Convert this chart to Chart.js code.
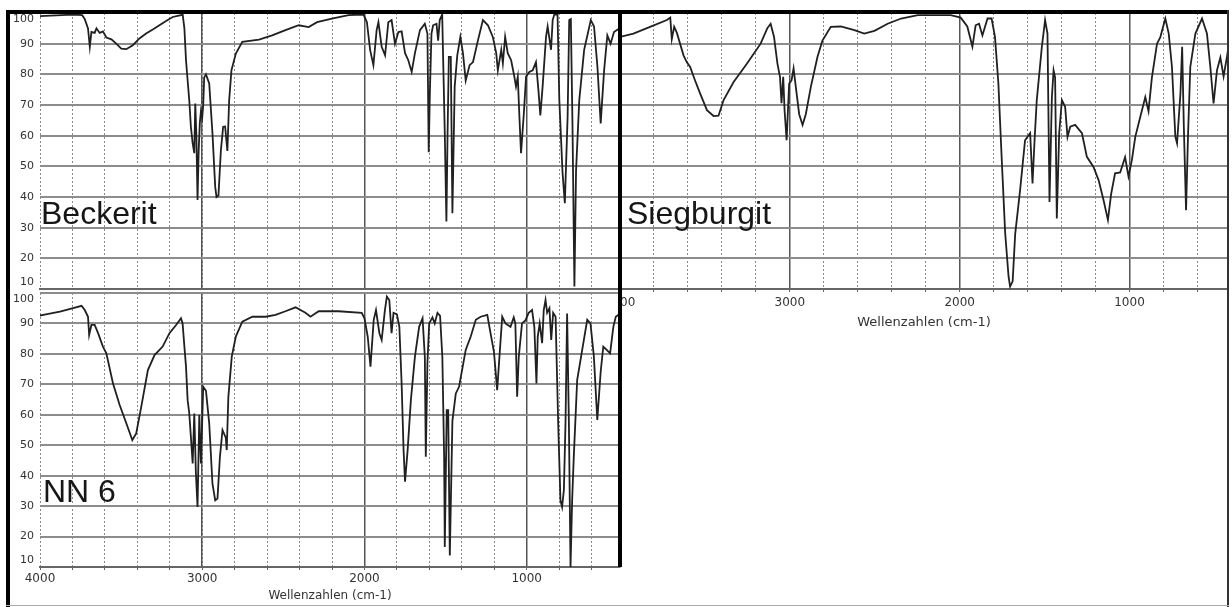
<!DOCTYPE html>
<html lang="de">
<head>
  <meta charset="UTF-8" />
  <title>IR-Spektren: Beckerit, Siegburgit, NN 6</title>
  <script src="https://cdn.jsdelivr.net/npm/chart.js"></script>
  <style>
    html, body {
      margin: 0;
      padding: 0;
      background: #fff;
    }
    body {
      position: relative;
      width: 1232px;
      height: 607px;
      overflow: hidden;
    }
    canvas {
      position: absolute;
    }
    .rule {
      position: absolute;
      background: #000;
      z-index: 5;
    }
  </style>
</head>
<body>
  <canvas id="beckerit" width="621" height="292" style="left:0;top:0"></canvas>
  <canvas id="siegburgit" width="612" height="336" style="left:620px;top:0"></canvas>
  <canvas id="nn6" width="621" height="317" style="left:0;top:290px"></canvas>

  <div class="rule" style="left:6px;top:10px;width:1223px;height:4px"></div>
  <div class="rule" style="left:6px;top:10px;width:4px;height:597px"></div>
  <div class="rule" style="left:618px;top:10px;width:4px;height:557px"></div>
  <div class="rule" style="left:1227px;top:10px;width:2px;height:597px;background:#333"></div>
  <div class="rule" style="left:6px;top:605px;width:1223px;height:1px;background:#aaa"></div>

  <script>
    // wavenumbers (cm-1) and transmission (%)
    const beckeritWn = [4000, 3900, 3800, 3740, 3724, 3704, 3693, 3683, 3663, 3652, 3632, 3612, 3591, 3560, 3530, 3499, 3468, 3428, 3387, 3346, 3305, 3264, 3223, 3182, 3131, 3121, 3110, 3100, 3090, 3080, 3070, 3059, 3049, 3043, 3036, 3029, 3022, 3015, 3008, 3000, 2994, 2988, 2977, 2957, 2937, 2920, 2912, 2900, 2885, 2871, 2859, 2845, 2834, 2820, 2793, 2753, 2650, 2569, 2487, 2405, 2344, 2292, 2201, 2098, 2006, 1985, 1965, 1945, 1925, 1914, 1894, 1873, 1853, 1833, 1812, 1791, 1771, 1750, 1730, 1709, 1689, 1658, 1628, 1612, 1604, 1597, 1587, 1577, 1556, 1546, 1536, 1521, 1505, 1495, 1488, 1480, 1468, 1458, 1444, 1428, 1409, 1393, 1376, 1352, 1331, 1301, 1270, 1239, 1209, 1188, 1178, 1157, 1147, 1133, 1117, 1096, 1076, 1066, 1055, 1045, 1035, 1018, 1004, 984, 963, 943, 928, 916, 902, 881, 871, 850, 840, 830, 810, 799, 779, 765, 748, 738, 728, 718, 706, 696, 676, 646, 605, 585, 564, 544, 523, 503, 483, 462, 442, 425];
    const beckeritT = [99, 99.2, 99.5, 99.3, 98, 95, 89, 93.8, 93.5, 95, 93.5, 94, 92, 91.4, 90, 88.4, 88.2, 89.5, 91.7, 93.3, 94.6, 96, 97.4, 98.7, 99.3, 99.7, 95, 84.6, 78, 71.6, 62.9, 57.5, 54.3, 70.5, 60, 39, 55, 64, 68, 66, 70, 79, 80, 77, 60.8, 43.3, 40, 40.5, 55.3, 62.9, 63, 55, 71.6, 81.3, 86.8, 90.6, 91.3, 92.7, 94.4, 96, 95.4, 97, 98.2, 99.3, 99.5, 97, 87.9, 83, 94.4, 97, 89, 86.2, 97, 97.7, 90, 93.8, 94, 86.9, 84.6, 80.8, 86.9, 94.4, 96.5, 93.3, 54.6, 73.8, 93.3, 96, 96.5, 91, 97.7, 99.5, 60.8, 32, 60, 85.7, 85.7, 34.7, 76, 86.2, 92.2, 86.9, 78, 83, 84, 91, 97.7, 96, 92.2, 86.9, 81.3, 88, 83.6, 92.2, 86.9, 84.6, 79.2, 76, 79.2, 66.1, 54.3, 67, 79.3, 80.8, 81.3, 84, 75, 66.6, 76, 92.2, 95.6, 88, 97.7, 99.5, 99.5, 71.6, 47.8, 38, 66, 97.7, 98, 64, 10.8, 48.5, 71.6, 88, 97.7, 95.6, 82.4, 64, 81.3, 92.7, 90, 93.8, 94.5, 95];

    const siegburgitWn = [4000, 3921, 3823, 3724, 3704, 3695, 3681, 3665, 3626, 3607, 3587, 3558, 3528, 3488, 3449, 3420, 3390, 3331, 3252, 3172, 3133, 3113, 3093, 3073, 3058, 3049, 3039, 3031, 3019, 3004, 2990, 2978, 2965, 2945, 2925, 2906, 2876, 2837, 2808, 2759, 2700, 2620, 2562, 2502, 2424, 2345, 2246, 2053, 1994, 1955, 1925, 1906, 1886, 1866, 1836, 1812, 1792, 1772, 1752, 1732, 1712, 1703, 1688, 1673, 1644, 1615, 1585, 1571, 1559, 1546, 1516, 1497, 1483, 1471, 1457, 1447, 1438, 1428, 1414, 1398, 1379, 1365, 1349, 1320, 1280, 1251, 1212, 1182, 1153, 1127, 1108, 1085, 1055, 1026, 1006, 986, 966, 937, 907, 888, 868, 838, 819, 789, 769, 750, 730, 720, 700, 690, 680, 667, 655, 642, 612, 573, 544, 524, 505, 485, 465, 446, 426, 420];
    const siegburgitT = [92.2, 93.3, 95.5, 97.7, 98.5, 91.5, 95.5, 93.5, 86.2, 84, 82.4, 78, 73.7, 68.3, 66.4, 66.5, 71.6, 77.5, 83.5, 90, 95, 96.5, 92.2, 83.5, 79.2, 70.6, 79.2, 68.3, 58.5, 77, 78, 81.9, 76, 67, 63.5, 67, 76, 85.7, 91, 95.5, 95.6, 94.4, 93.3, 94.2, 96.5, 98.2, 99.3, 99.3, 98.5, 95.6, 89, 96, 96.5, 92.7, 98.2, 98.2, 92.2, 77, 52, 28.2, 14, 10.8, 12.5, 28, 42.3, 58.5, 60.8, 44.4, 58.5, 71.6, 89, 97.7, 93.3, 38.4, 72.6, 81.3, 79, 33, 60.8, 71.6, 69.4, 59.6, 62.9, 63.5, 60.8, 53.1, 49.8, 45.5, 39, 32.5, 41, 47.7, 48, 53, 46.7, 52, 59.6, 66, 72.6, 68, 79, 90, 92, 98.2, 93.3, 82.4, 59.6, 57.5, 73.8, 89, 62.9, 35.7, 60.8, 82.4, 93.3, 98.2, 93.3, 82.4, 70.5, 81.3, 85.5, 79.3, 85.8, 88];

    const nn6Wn = [4000, 3980, 3877, 3796, 3744, 3724, 3704, 3697, 3683, 3663, 3642, 3612, 3591, 3550, 3509, 3468, 3431, 3407, 3376, 3335, 3294, 3244, 3202, 3161, 3131, 3121, 3110, 3100, 3090, 3080, 3070, 3059, 3049, 3039, 3029, 3018, 3008, 2994, 2977, 2957, 2937, 2920, 2906, 2891, 2875, 2855, 2849, 2839, 2818, 2793, 2753, 2691, 2609, 2548, 2487, 2425, 2364, 2333, 2282, 2160, 2017, 2000, 1980, 1963, 1943, 1929, 1908, 1894, 1874, 1862, 1847, 1833, 1821, 1800, 1785, 1771, 1759, 1750, 1734, 1714, 1689, 1663, 1642, 1628, 1622, 1612, 1601, 1581, 1567, 1550, 1534, 1520, 1509, 1505, 1493, 1484, 1474, 1458, 1437, 1417, 1376, 1345, 1314, 1284, 1243, 1223, 1202, 1182, 1168, 1151, 1131, 1100, 1080, 1070, 1059, 1049, 1029, 1008, 988, 967, 953, 940, 932, 920, 905, 895, 884, 874, 860, 849, 837, 822, 806, 792, 782, 771, 761, 751, 740, 730, 720, 710, 689, 658, 627, 607, 586, 565, 544, 528, 507, 486, 466, 451, 430];
    const nn6T = [92.6, 92.8, 93.9, 95, 95.8, 94.4, 92.2, 86.2, 89.5, 89.5, 86.8, 82.4, 80.2, 70.3, 63.2, 57.2, 51.7, 53.9, 62.6, 74.7, 79.6, 82.4, 86.8, 89.5, 91.7, 90, 82.4, 75.8, 64.8, 60.5, 52.8, 44, 60.4, 40.7, 29.7, 60, 44, 69.2, 67.9, 57.2, 37.4, 31.9, 32.5, 46.2, 55, 52.5, 48.4, 65.9, 79.1, 85.7, 90.6, 92.2, 92.2, 92.8, 94, 95.3, 93.5, 92.2, 94, 94, 93.5, 91.7, 85.7, 75.8, 91.2, 94.4, 86.8, 84.6, 94.4, 98.8, 97.7, 86.8, 93.5, 93, 88.9, 70.3, 48.4, 38, 48.4, 64.8, 79.1, 88.9, 91.7, 79.1, 46.2, 77, 90, 92, 90, 93.5, 92.5, 79, 46, 16.6, 61.5, 61.5, 13.8, 58, 67, 69.2, 81.3, 85.7, 91.2, 92.2, 92.8, 86.8, 80.7, 68.1, 79.1, 92.2, 90, 88.9, 92, 90, 65.9, 79, 90, 91, 93.5, 94.4, 88.9, 70.3, 85.7, 90, 83.5, 94.4, 97.7, 93.5, 95, 84.6, 93.5, 92.2, 57.2, 31.9, 29.7, 35.2, 57, 93.3, 57.2, 10, 31.9, 46, 71.4, 81.3, 91.2, 90, 79.1, 58.3, 74.2, 82.4, 81.3, 80.2, 88.9, 92.2, 93];

    // axis ticks
    const xMajorTicks = [4000, 3000, 2000, 1000];
    const xMinorTicks = [4000, 3800, 3600, 3400, 3200, 3000, 2800, 2600, 2400, 2200, 2000, 1800, 1600, 1400, 1200, 1000, 800, 600];
    const yTicks = [100, 90, 80, 70, 60, 50, 40, 30, 20, 10];
    const axisTitle = 'Wellenzahlen (cm-1)';

    const tickFont = { family: 'DejaVu Sans', size: 11 };
    const useTicks = list => s => { s.ticks = list.map(v => ({ value: v })); };

    // big sample name written inside the plot
    const panelLabel = {
      id: 'panelLabel',
      afterDraw(chart, args, o) {
        const c = chart.ctx;
        c.save();
        c.font = '32px "Liberation Sans", Arial, sans-serif';
        c.fillStyle = '#161616';
        c.textBaseline = 'alphabetic';
        c.fillText(o.text, o.x, o.y);
        c.restore();
      }
    };

    function spectrum(id, wn, t, opt) {
      return new Chart(document.getElementById(id), {
        type: 'line',
        data: {
          datasets: [{
            data: wn.map((w, i) => ({ x: w, y: t[i] })),
            xAxisID: 'x',
            yAxisID: 'y',
            borderColor: '#202020',
            borderWidth: 1.8,
            pointRadius: 0,
            tension: 0
          }]
        },
        options: {
          responsive: false,
          animation: false,
          events: [],
          devicePixelRatio: 1,
          layout: { padding: opt.padding },
          plugins: {
            legend: { display: false },
            tooltip: { enabled: false },
            panelLabel: opt.label
          },
          scales: {
            xMinor: {
              type: 'linear', axis: 'x', position: 'bottom', weight: -1,
              min: opt.xMin, max: 4000, reverse: true,
              afterBuildTicks: useTicks(xMinorTicks),
              ticks: { display: false },
              grid: { color: '#8a8a8a', lineWidth: 1, drawTicks: opt.tickMarks, tickLength: 3, tickColor: '#666' },
              border: { display: false, dash: [2, 2] },
              afterFit: s => { s.height = 0; s.paddingLeft = 0; s.paddingRight = 0; }
            },
            x: {
              type: 'linear', position: 'bottom',
              min: opt.xMin, max: 4000, reverse: true,
              afterBuildTicks: useTicks(xMajorTicks),
              ticks: {
                display: opt.xLabels, autoSkip: false, maxRotation: 0, padding: opt.xPad,
                color: '#333', font: { family: 'DejaVu Sans', size: 12 },
                callback: v => String(v)
              },
              grid: {
                color: c => (c.tick && c.tick.value === 4000) ? 'rgba(0,0,0,0)' : '#555',
                lineWidth: 1.5,
                drawTicks: false
              },
              border: { display: true, color: '#666', width: 2 },
              title: {
                display: opt.xLabels, text: axisTitle, color: '#333',
                font: { family: 'DejaVu Sans', size: opt.titleSize },
                padding: { top: 0, bottom: opt.titlePad }
              },
              afterFit: s => { s.height = opt.xHeight; s.paddingLeft = 0; s.paddingRight = 0; }
            },
            y: {
              type: 'linear', position: 'left', min: 10, max: 100,
              afterBuildTicks: useTicks(yTicks),
              ticks: {
                display: opt.yLabels, autoSkip: false, padding: 6,
                color: '#333', font: tickFont,
                callback: v => v === 100 ? ['', '100'] : v === 10 ? ['10', ''] : String(v)
              },
              grid: { color: '#8c8c8c', lineWidth: 2, drawTicks: false },
              border: { display: false },
              afterFit: s => { s.width = opt.yWidth; s.paddingTop = 0; s.paddingBottom = 0; }
            }
          }
        },
        plugins: [panelLabel]
      });
    }

    spectrum('beckerit', beckeritWn, beckeritT, {
      padding: { top: 13, left: 0, right: 1, bottom: 3 },
      xMin: 425, xLabels: false, tickMarks: false, xHeight: 0, xPad: 0,
      titleSize: 12, titlePad: 0, yLabels: true, yWidth: 40,
      label: { text: 'Beckerit', x: 41, y: 224 }
    });

    spectrum('siegburgit', siegburgitWn, siegburgitT, {
      padding: { top: 13, left: 0, right: 4, bottom: 0 },
      xMin: 420, xLabels: true, tickMarks: true, xHeight: 47, xPad: 7,
      titleSize: 13, titlePad: 6, yLabels: false, yWidth: 0,
      label: { text: 'Siegburgit', x: 7, y: 224 }
    });

    spectrum('nn6', nn6Wn, nn6T, {
      padding: { top: 3, left: 0, right: 1, bottom: 0 },
      xMin: 425, xLabels: true, tickMarks: true, xHeight: 40, xPad: 5,
      titleSize: 12, titlePad: 4, yLabels: true, yWidth: 40,
      label: { text: 'NN 6', x: 43, y: 212 }
    });
  </script>
</body>
</html>
